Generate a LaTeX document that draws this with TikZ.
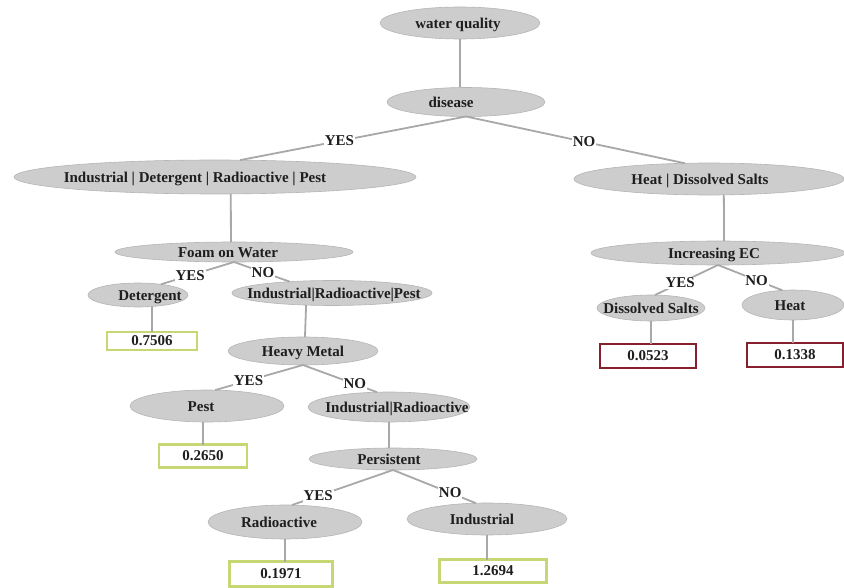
\documentclass[tikz,border=0pt]{standalone}
\usepackage{fontspec}
\setmainfont{Liberation Serif}
\usetikzlibrary{shapes.geometric}
\definecolor{ellfill}{HTML}{CDCDCD}
\definecolor{elldraw}{HTML}{B5B5B5}
\definecolor{edgecol}{HTML}{A8A8A8}
\definecolor{boxgreen}{HTML}{C6D774}
\definecolor{boxred}{HTML}{86202F}
\definecolor{txtcol}{HTML}{1E1E1E}
\newcommand\nt[2][0pt]{\smash{\raisebox{-0.34em}{\makebox[0pt]{\hspace*{#1}#2}}}}
\begin{document}
\begin{tikzpicture}[x=1pt,y=-1pt,
  font=\fontsize{15}{18}\selectfont\bfseries, text=txtcol,
  ell/.style 2 args={ellipse, fill=ellfill, draw=elldraw, line width=0.6pt,
    inner sep=0pt, outer sep=0pt, minimum width=#1pt, minimum height=#2pt},
  valbox/.style 2 args={rectangle, fill=white, line width=2.6pt, inner sep=0pt,
    outer sep=0pt, minimum width=#1pt, minimum height=#2pt},
  edge/.style={draw=edgecol, line width=1.8pt},
  lbl/.style={fill=white, inner sep=0.8pt}]
\useasboundingbox (0,0) rectangle (844,588);
% ellipses
\node[ell={160}{32}] (wq) at (460,23) {\nt[-4pt]{water quality}};
\node[ell={158}{29}] (dis) at (466,102) {\nt[-30pt]{disease}};
\node[ell={402}{34}] (ind) at (215,177) {\nt[-40pt]{Industrial | Detergent | Radioactive | Pest}};
\node[ell={270}{32}] (heat) at (709,179) {\nt[-18pt]{Heat | Dissolved Salts}};
\node[ell={238}{20}] (foam) at (234,252) {\nt[-12pt]{Foam on Water}};
\node[ell={100}{24}] (det) at (138,295) {\nt[24pt]{Detergent}};
\node[ell={200}{25}] (irp) at (332,293) {\nt[4pt]{Industrial|Radioactive|Pest}};
\node[ell={150}{28}] (hm) at (303,351) {\nt{Heavy Metal}};
\node[ell={154}{32}] (pest) at (207,406) {\nt[-12pt]{Pest}};
\node[ell={162}{30}] (ir) at (389,407) {\nt[16pt]{Industrial|Radioactive}};
\node[ell={168}{22}] (pers) at (393,459) {\nt[-8pt]{Persistent}};
\node[ell={154}{34}] (rad) at (285,522) {\nt[-12pt]{Radioactive}};
\node[ell={160}{32}] (indl) at (487,519) {\nt[-10pt]{Industrial}};
\node[ell={254}{24}] (incEC) at (718,253) {\nt[-8pt]{Increasing EC}};
\node[ell={108}{26}] (ds) at (651,308) {\nt{Dissolved Salts}};
\node[ell={102}{30}] (heatl) at (793,305) {\nt[-6pt]{Heat}};
% value boxes
\node[valbox={90}{18}, draw=boxgreen] (b1) at (152,341) {0.7506};
\node[valbox={88}{23}, draw=boxgreen] (b2) at (203,456) {0.2650};
\node[valbox={103}{25}, draw=boxgreen] (b3) at (281,574) {0.1971};
\node[valbox={107}{23}, draw=boxgreen] (b4) at (493,571) {1.2694};
\node[valbox={96}{24}, draw=boxred] (b5) at (648,356) {0.0523};
\node[valbox={96}{24}, draw=boxred] (b6) at (795,355) {0.1338};
% edges
\draw[edge] (wq.south) -- (wq.south |- dis.north);
\draw[edge] (dis.south) -- node[lbl,pos=0.56] (l1) {YES} (ind.34);
\draw[edge] (dis.south) -- node[lbl,pos=0.54] (l2) {NO} (heat.147);
\draw[edge] (ind.313) -- (foam.107);
\draw[edge] (foam.south) -- node[lbl,pos=0.6] (l3) {YES} (det.25);
\draw[edge] (foam.south) -- node[lbl,pos=0.52] (l4) {NO} (irp.165);
\draw[edge] (b1.north |- det.south) -- (b1.north);
\draw[edge] (irp.205) -- (hm.82);
\draw[edge] (hm.south) -- node[lbl,pos=0.62] (l5) {YES} (pest.63);
\draw[edge] (hm.south) -- node[lbl,pos=0.7] (l6) {NO} (ir.129);
\draw[edge] (b2.north |- pest.south) -- (b2.north);
\draw[edge] (ir.south) -- (ir.south |- pers.north);
\draw[edge] (pers.south) -- node[lbl,pos=0.74] (l7) {YES} (rad.68);
\draw[edge] (pers.south) -- node[lbl,pos=0.69] (l8) {NO} (indl.125);
\draw[edge] (rad.south) -- (rad.south |- b3.north);
\draw[edge] (indl.south) -- (indl.south |- b4.north);
\draw[edge] (heat.313) -- (incEC.63);
\draw[edge] (incEC.south) -- node[lbl,pos=0.6] (l9) {YES} (ds.73);
\draw[edge] (incEC.south) -- node[lbl,pos=0.6] (l10) {NO} (heatl.126);
\draw[edge] (ds.south) -- (ds.south |- b5.north);
\draw[edge] (heatl.south) -- (heatl.south |- b6.north);
\end{tikzpicture}
\end{document}
